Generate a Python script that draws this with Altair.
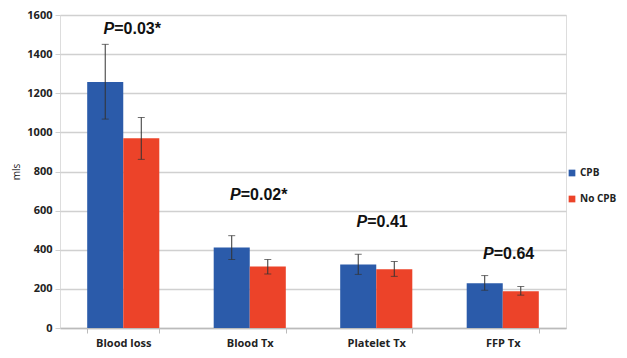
import altair as alt
import pandas as pd

categories = ["Blood loss", "Blood Tx", "Platelet Tx", "FFP Tx"]
groups = ["CPB", "No CPB"]
cpb_mean = [1258, 411, 325, 229]
cpb_lo = [1068, 350, 274, 193]
cpb_hi = [1450, 472, 377, 268]
nocpb_mean = [970, 315, 300, 188]
nocpb_lo = [862, 276, 264, 168]
nocpb_hi = [1076, 350, 340, 212]
p_rest = ["=0.03*", "=0.02*", "=0.41", "=0.64"]
p_y = [1530, 680, 540, 380]
y_ticks = [0, 200, 400, 600, 800, 1000, 1200, 1400, 1600]

rows = []
for i, c in enumerate(categories):
    rows.append(dict(cat=c, grp="CPB", mean=cpb_mean[i], lo=cpb_lo[i], hi=cpb_hi[i]))
    rows.append(dict(cat=c, grp="No CPB", mean=nocpb_mean[i], lo=nocpb_lo[i], hi=nocpb_hi[i]))
df = pd.DataFrame(rows)
pdf = pd.DataFrame(dict(cat=categories, rest=p_rest, y=p_y, p=["P"] * 4))

xaxis = alt.Axis(labelAngle=0, labelFont="Open Sans", labelFontWeight="bold",
                 labelFontSize=11, labelColor="#222", labelPadding=4,
                 tickBand="extent", tickColor="#bbb", tickSize=5,
                 domainColor="#bbb", domainWidth=1.5, grid=False)
xscale = alt.Scale(paddingInner=0.43, paddingOuter=0.215)
yaxis = alt.Axis(values=y_ticks, format="d", labelOverlap=False, grid=True,
                 labelFont="Open Sans", labelFontWeight="bold", labelFontSize=11,
                 labelColor="#222", titleFont="Open Sans", titleFontSize=10,
                 titleFontWeight="normal", titleColor="#222", titlePadding=5,
                 gridColor="#d0d0d0", gridWidth=1.5, tickColor="#d0d0d0",
                 tickSize=5, domain=False, labelPadding=3)
yscale = alt.Scale(domain=[0, 1600])


def X():
    return alt.X("cat:N", sort=categories, title=None, scale=xscale, axis=xaxis)


def Y(field):
    return alt.Y(field, scale=yscale, title="mls", axis=yaxis)


base = alt.Chart(df)
bars = base.mark_bar().encode(
    x=X(),
    xOffset=alt.XOffset("grp:N", sort=groups),
    y=Y("mean:Q"),
    color=alt.Color("grp:N", sort=groups, title=None,
                    scale=alt.Scale(domain=groups, range=["#2B5BAA", "#EC4329"]),
                    legend=alt.Legend(orient="none", legendX=507, legendY=153,
                                      symbolType="square", symbolSize=45,
                                      labelFont="Open Sans", labelFontSize=10,
                                      labelFontWeight="bold", labelColor="#222",
                                      labelOffset=3,
                                      rowPadding=16, symbolStrokeWidth=0)),
)
err = base.mark_rule(color="#333", strokeWidth=1).encode(
    x=X(),
    xOffset=alt.XOffset("grp:N", sort=groups),
    y=Y("lo:Q"),
    y2="hi:Q",
)
cap_lo = base.mark_tick(color="#333", size=7, thickness=1).encode(
    x=X(),
    xOffset=alt.XOffset("grp:N", sort=groups),
    y=Y("lo:Q"),
)
cap_hi = base.mark_tick(color="#333", size=7, thickness=1).encode(
    x=X(),
    xOffset=alt.XOffset("grp:N", sort=groups),
    y=Y("hi:Q"),
)
ptxt = alt.Chart(pdf).mark_text(font="Liberation Sans", fontSize=16, fontWeight="bold",
                                fontStyle="italic", align="right", dx=-9, color="#111").encode(
    x=X(), y=Y("y:Q"), text="p:N")
rtxt = alt.Chart(pdf).mark_text(font="Liberation Sans", fontSize=16, fontWeight="bold",
                                align="left", dx=-9, color="#111").encode(
    x=X(), y=Y("y:Q"), text="rest:N")

chart = alt.layer(bars, err, cap_lo, cap_hi, ptxt, rtxt).properties(
    width=506, height=313,
    autosize=alt.AutoSizeParams(type="none"),
    padding={"left": 52, "top": 7, "right": 53, "bottom": 22},
).configure_view(stroke=None).configure(background="white")

chart.save("out.html", embed_options={"renderer": "svg", "actions": False})
